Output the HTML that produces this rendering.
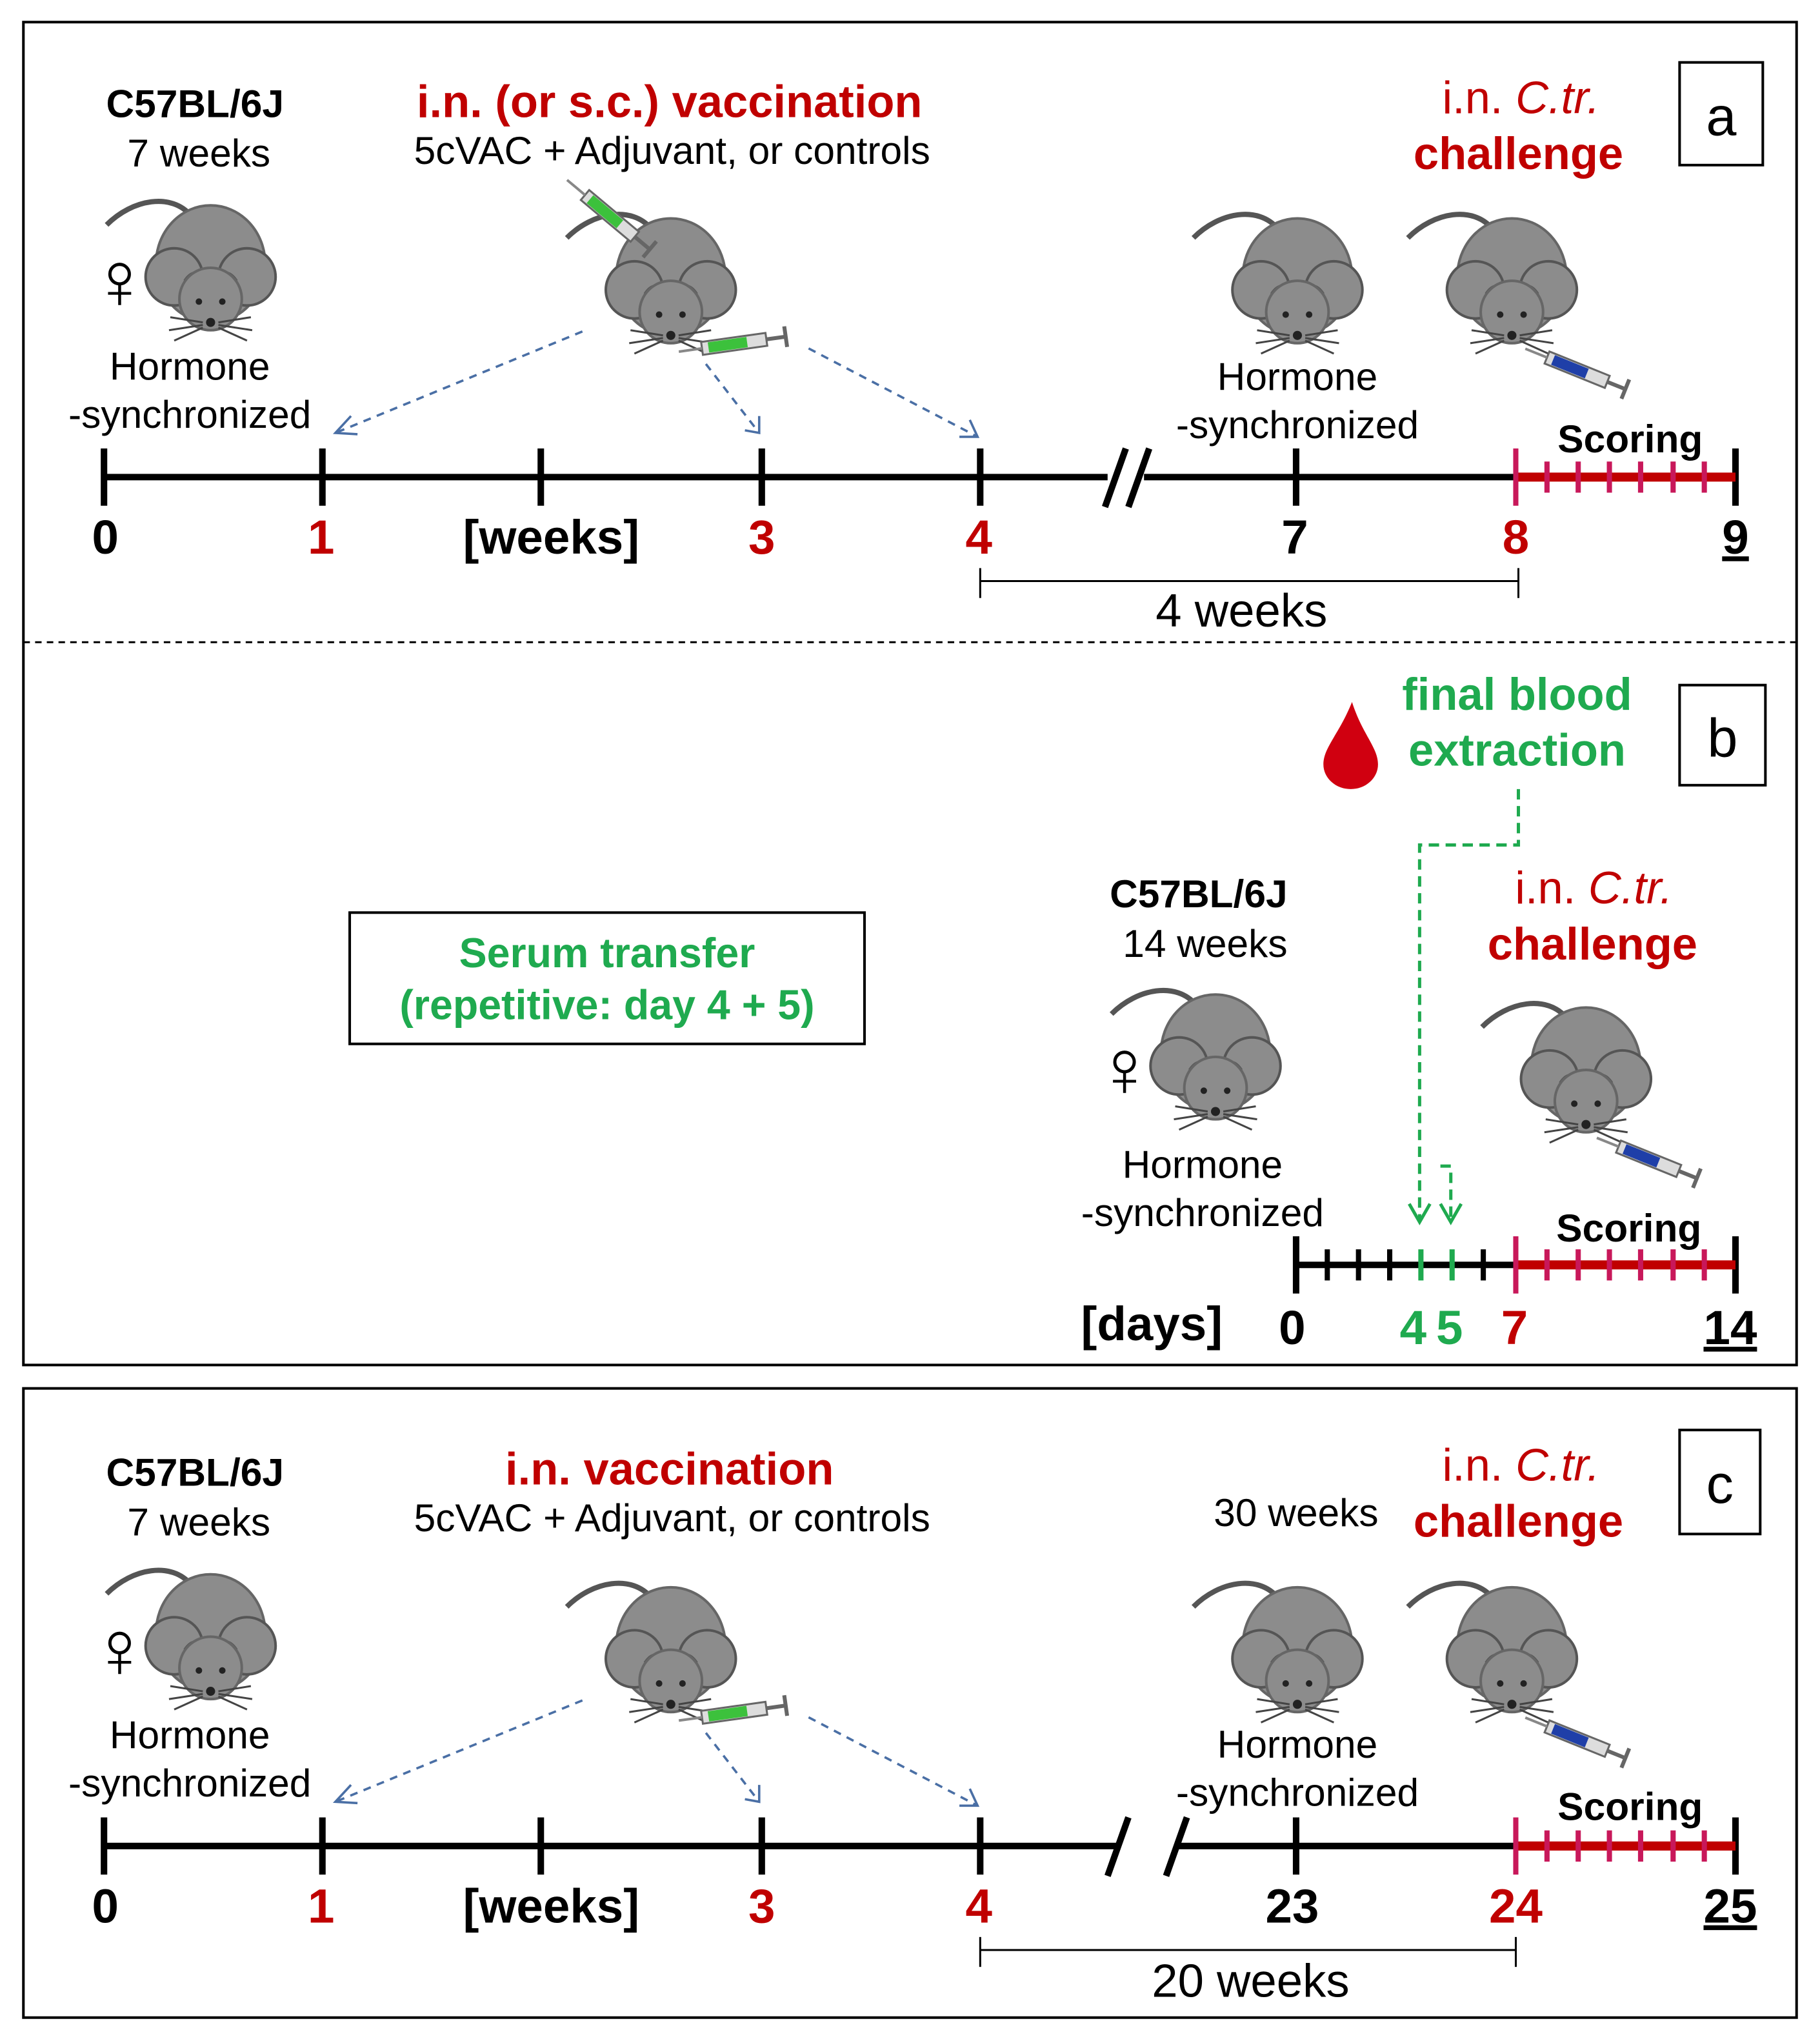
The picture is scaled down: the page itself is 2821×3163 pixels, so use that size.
<!DOCTYPE html>
<html><head><meta charset="utf-8"><style>html,body{margin:0;padding:0;background:#fff}svg{display:block}</style></head>
<body>
<svg width="2821" height="3163" viewBox="0 0 1400 1570" preserveAspectRatio="none" xmlns="http://www.w3.org/2000/svg" font-family="Liberation Sans, Arial, sans-serif">
<defs>
<g id="mouse">
<path d="M-15,-42 C-30,-60 -60,-55 -80,-35" stroke="#555" stroke-width="4" fill="none"/>
<ellipse cx="0" cy="-5" rx="42" ry="45" fill="#8c8c8c" stroke="#666" stroke-width="2"/>
<circle cx="-28" cy="5" r="22" fill="#8c8c8c" stroke="#555" stroke-width="2"/>
<circle cx="28" cy="5" r="22" fill="#8c8c8c" stroke="#555" stroke-width="2"/>
<path d="M-20,8 q8,-12 16,0 M20,8 q-8,-12 -16,0" stroke="#555" stroke-width="2" fill="none"/>
<ellipse cx="0" cy="22" rx="24" ry="24" fill="#8c8c8c" stroke="#666" stroke-width="2"/>
<circle cx="-9" cy="24" r="2.5" fill="#222"/><circle cx="9" cy="24" r="2.5" fill="#222"/>
<circle cx="0" cy="40" r="3.5" fill="#222"/>
<path d="M-6,40 l-25,-4 M-6,42 l-26,4 M-6,44 l-22,10 M6,40 l25,-4 M6,42 l26,4 M6,44 l22,10" stroke="#444" stroke-width="1.5"/>
</g>
<g id="syrG">
<rect x="0" y="-5" width="50" height="10" fill="#ddd" stroke="#666" stroke-width="1.5"/>
<rect x="5" y="-4" width="30" height="8" fill="#3cc13c"/>
<line x1="50" y1="0" x2="65" y2="0" stroke="#666" stroke-width="3"/>
<line x1="65" y1="-8" x2="65" y2="8" stroke="#666" stroke-width="3"/>
<line x1="0" y1="0" x2="-18" y2="0" stroke="#888" stroke-width="2"/>
</g>
<g id="syrB">
<rect x="0" y="-5" width="50" height="10" fill="#ddd" stroke="#666" stroke-width="1.5"/>
<rect x="5" y="-4" width="28" height="8" fill="#1f3fa8"/>
<line x1="50" y1="0" x2="65" y2="0" stroke="#666" stroke-width="3"/>
<line x1="65" y1="-8" x2="65" y2="8" stroke="#666" stroke-width="3"/>
<line x1="0" y1="0" x2="-18" y2="0" stroke="#888" stroke-width="2"/>
</g>
</defs>

<rect x="18" y="17" width="1364" height="1033" fill="none" stroke="#000" stroke-width="2"/>
<line x1="18" y1="494" x2="1382" y2="494" stroke="#000" stroke-width="1.5" stroke-dasharray="5,4"/>
<rect x="18" y="1068" width="1364" height="484" fill="none" stroke="#000" stroke-width="2"/>
<rect x="1292" y="48" width="64" height="79" fill="none" stroke="#000" stroke-width="2"/>
<text x="1324" y="104" font-size="42" text-anchor="middle">a</text>
<rect x="1292" y="527" width="66" height="77" fill="none" stroke="#000" stroke-width="2"/>
<text x="1325" y="582" font-size="42" text-anchor="middle">b</text>
<rect x="1292" y="1100" width="62" height="80" fill="none" stroke="#000" stroke-width="2"/>
<text x="1323" y="1156" font-size="42" text-anchor="middle">c</text>

<!-- PANEL A -->
<g font-size="30" text-anchor="middle">
<text x="150" y="90" font-weight="bold">C57BL/6J</text>
<text x="153" y="128">7 weeks</text>
<text x="515" y="90" font-weight="bold" fill="#c00000" font-size="35">i.n. (or s.c.) vaccination</text>
<text x="517" y="126">5cVAC + Adjuvant, or controls</text>
<text x="1170" y="87" fill="#c00000" font-size="35">i.n. <tspan font-style="italic">C.tr.</tspan></text>
<text x="1168" y="130" fill="#c00000" font-size="35" font-weight="bold">challenge</text>
<text x="146" y="292">Hormone</text>
<text x="146" y="329">-synchronized</text>
<text x="998" y="300">Hormone</text>
<text x="998" y="337">-synchronized</text>
<text x="1254" y="348" font-weight="bold">Scoring</text>
</g>
<text x="92" y="237" font-size="62" font-weight="bold" text-anchor="middle">♀</text>
<use href="#mouse" x="162" y="208"/>
<use href="#mouse" x="516" y="218"/>
<use href="#mouse" x="998" y="218"/>
<use href="#mouse" x="1163" y="218"/>
<use href="#syrG" transform="translate(450,150) rotate(40)"/>
<use href="#syrG" transform="translate(540,268) rotate(-8)"/>
<use href="#syrB" transform="translate(1190,275) rotate(22)"/>
<g stroke="#4a6fa5" stroke-width="1.8" stroke-dasharray="6,5" fill="none">
<path d="M448,255 L258,333"/><path d="M543,280 L584,333"/><path d="M622,268 L752,336"/>
</g>
<g stroke="#4a6fa5" stroke-width="1.8" fill="none">
<path d="M270,320 L258,333 L275,334"/><path d="M573,331 L584,333 L584,320"/><path d="M738,336 L752,336 L746,323"/>
</g>
<g stroke="#000" stroke-width="5">
<line x1="80" y1="367" x2="852" y2="367"/><line x1="880" y1="367" x2="1166" y2="367"/>
<line x1="80" y1="345" x2="80" y2="389"/><line x1="248" y1="345" x2="248" y2="389"/>
<line x1="416" y1="345" x2="416" y2="389"/><line x1="586" y1="345" x2="586" y2="389"/>
<line x1="754" y1="345" x2="754" y2="389"/><line x1="997" y1="345" x2="997" y2="389"/>
<line x1="1335" y1="345" x2="1335" y2="389"/>
<line x1="850" y1="390" x2="866" y2="345"/><line x1="868" y1="390" x2="884" y2="345"/>
</g>
<line x1="1166" y1="367" x2="1335" y2="367" stroke="#c00000" stroke-width="7"/>
<g stroke="#c8185a" stroke-width="4"><line x1="1166" y1="345" x2="1166" y2="389"/>
<line x1="1190" y1="355" x2="1190" y2="379"/><line x1="1214" y1="355" x2="1214" y2="379"/><line x1="1238" y1="355" x2="1238" y2="379"/><line x1="1262" y1="355" x2="1262" y2="379"/><line x1="1287" y1="355" x2="1287" y2="379"/><line x1="1311" y1="355" x2="1311" y2="379"/></g>
<g font-size="37" font-weight="bold" text-anchor="middle">
<text x="81" y="426">0</text><text x="247" y="426" fill="#c00000">1</text>
<text x="424" y="426">[weeks]</text><text x="586" y="426" fill="#c00000">3</text>
<text x="753" y="426" fill="#c00000">4</text><text x="996" y="426">7</text>
<text x="1166" y="426" fill="#c00000">8</text><text x="1335" y="426" text-decoration="underline">9</text>
</g>
<g stroke="#000" stroke-width="1.5"><line x1="754" y1="447" x2="1168" y2="447"/><line x1="754" y1="437" x2="754" y2="460"/><line x1="1168" y1="437" x2="1168" y2="460"/></g>
<text x="955" y="482" font-size="36" text-anchor="middle">4 weeks</text>

<!-- PANEL B -->
<g font-size="35" font-weight="bold" fill="#1faa4f" text-anchor="middle">
<text x="1167" y="546">final blood</text><text x="1167" y="589">extraction</text>
<text x="467" y="744" font-size="32">Serum transfer</text>
<text x="467" y="784" font-size="32">(repetitive: day 4 + 5)</text>
</g>
<path d="M1040,540 C1030,565 1018,575 1018,588 A21,19 0 0 0 1060,588 C1060,575 1048,565 1040,540 Z" fill="#d00010"/>
<rect x="269" y="702" width="396" height="101" fill="none" stroke="#000" stroke-width="2"/>
<g font-size="30" text-anchor="middle">
<text x="922" y="698" font-weight="bold">C57BL/6J</text>
<text x="927" y="736">14 weeks</text>
<text x="1226" y="695" fill="#c00000" font-size="35">i.n. <tspan font-style="italic">C.tr.</tspan></text>
<text x="1225" y="738" fill="#c00000" font-size="35" font-weight="bold">challenge</text>
<text x="925" y="906">Hormone</text>
<text x="925" y="943">-synchronized</text>
<text x="1253" y="955" font-weight="bold">Scoring</text>
</g>
<text x="865" y="843" font-size="62" font-weight="bold" text-anchor="middle">♀</text>
<use href="#mouse" x="935" y="815"/>
<use href="#mouse" x="1220" y="825"/>
<use href="#syrB" transform="translate(1245,882) rotate(22)"/>
<g stroke="#1faa4f" stroke-width="2.5" stroke-dasharray="8,5" fill="none">
<path d="M1168,607 L1168,650 L1092,650 L1092,938"/><path d="M1108,897 L1116,897 L1116,938"/>
</g>
<g stroke="#1faa4f" stroke-width="2.5" fill="none"><path d="M1084,926 L1092,940 L1100,926"/><path d="M1108,926 L1116,940 L1124,926"/></g>
<g stroke="#000" stroke-width="5"><line x1="997" y1="973" x2="1166" y2="973"/>
<line x1="997" y1="951" x2="997" y2="995"/><line x1="1335" y1="951" x2="1335" y2="995"/></g>
<g stroke="#000" stroke-width="4"><line x1="1021" y1="961" x2="1021" y2="985"/><line x1="1045" y1="961" x2="1045" y2="985"/><line x1="1069" y1="961" x2="1069" y2="985"/><line x1="1141" y1="961" x2="1141" y2="985"/></g>
<g stroke="#1faa4f" stroke-width="4"><line x1="1093" y1="961" x2="1093" y2="985"/><line x1="1117" y1="961" x2="1117" y2="985"/></g>
<line x1="1166" y1="973" x2="1335" y2="973" stroke="#c00000" stroke-width="7"/>
<g stroke="#c8185a" stroke-width="4"><line x1="1166" y1="951" x2="1166" y2="995"/>
<line x1="1190" y1="961" x2="1190" y2="985"/><line x1="1214" y1="961" x2="1214" y2="985"/><line x1="1238" y1="961" x2="1238" y2="985"/><line x1="1262" y1="961" x2="1262" y2="985"/><line x1="1287" y1="961" x2="1287" y2="985"/><line x1="1311" y1="961" x2="1311" y2="985"/></g>
<g font-size="37" font-weight="bold" text-anchor="middle">
<text x="886" y="1031">[days]</text><text x="994" y="1034">0</text>
<text x="1087" y="1034" fill="#1faa4f">4</text><text x="1115" y="1034" fill="#1faa4f">5</text>
<text x="1165" y="1034" fill="#c00000">7</text><text x="1331" y="1034" text-decoration="underline">14</text>
</g>

<!-- PANEL C -->
<g font-size="30" text-anchor="middle">
<text x="150" y="1143" font-weight="bold">C57BL/6J</text>
<text x="153" y="1181">7 weeks</text>
<text x="515" y="1142" font-weight="bold" fill="#c00000" font-size="35">i.n. vaccination</text>
<text x="517" y="1178">5cVAC + Adjuvant, or controls</text>
<text x="997" y="1174">30 weeks</text>
<text x="1170" y="1139" fill="#c00000" font-size="35">i.n. <tspan font-style="italic">C.tr.</tspan></text>
<text x="1168" y="1182" fill="#c00000" font-size="35" font-weight="bold">challenge</text>
<text x="146" y="1345">Hormone</text>
<text x="146" y="1382">-synchronized</text>
<text x="998" y="1352">Hormone</text>
<text x="998" y="1389">-synchronized</text>
<text x="1254" y="1400" font-weight="bold">Scoring</text>
</g>
<text x="92" y="1290" font-size="62" font-weight="bold" text-anchor="middle">♀</text>
<use href="#mouse" x="162" y="1261"/>
<use href="#mouse" x="516" y="1271"/>
<use href="#mouse" x="998" y="1271"/>
<use href="#mouse" x="1163" y="1271"/>
<use href="#syrG" transform="translate(540,1321) rotate(-8)"/>
<use href="#syrB" transform="translate(1190,1328) rotate(22)"/>
<g stroke="#4a6fa5" stroke-width="1.8" stroke-dasharray="6,5" fill="none">
<path d="M448,1308 L258,1386"/><path d="M543,1333 L584,1386"/><path d="M622,1321 L752,1389"/>
</g>
<g stroke="#4a6fa5" stroke-width="1.8" fill="none">
<path d="M270,1373 L258,1386 L275,1387"/><path d="M573,1384 L584,1386 L584,1373"/><path d="M738,1389 L752,1389 L746,1376"/>
</g>
<g stroke="#000" stroke-width="5">
<line x1="80" y1="1420" x2="862" y2="1420"/><line x1="905" y1="1420" x2="1166" y2="1420"/>
<line x1="80" y1="1398" x2="80" y2="1442"/><line x1="248" y1="1398" x2="248" y2="1442"/>
<line x1="416" y1="1398" x2="416" y2="1442"/><line x1="586" y1="1398" x2="586" y2="1442"/>
<line x1="754" y1="1398" x2="754" y2="1442"/><line x1="997" y1="1398" x2="997" y2="1442"/>
<line x1="1335" y1="1398" x2="1335" y2="1442"/>
<line x1="852" y1="1443" x2="868" y2="1398"/><line x1="897" y1="1443" x2="913" y2="1398"/>
</g>
<line x1="1166" y1="1420" x2="1335" y2="1420" stroke="#c00000" stroke-width="7"/>
<g stroke="#c8185a" stroke-width="4"><line x1="1166" y1="1398" x2="1166" y2="1442"/>
<line x1="1190" y1="1408" x2="1190" y2="1432"/><line x1="1214" y1="1408" x2="1214" y2="1432"/><line x1="1238" y1="1408" x2="1238" y2="1432"/><line x1="1262" y1="1408" x2="1262" y2="1432"/><line x1="1287" y1="1408" x2="1287" y2="1432"/><line x1="1311" y1="1408" x2="1311" y2="1432"/></g>
<g font-size="37" font-weight="bold" text-anchor="middle">
<text x="81" y="1479">0</text><text x="247" y="1479" fill="#c00000">1</text>
<text x="424" y="1479">[weeks]</text><text x="586" y="1479" fill="#c00000">3</text>
<text x="753" y="1479" fill="#c00000">4</text><text x="994" y="1479">23</text>
<text x="1166" y="1479" fill="#c00000">24</text><text x="1331" y="1479" text-decoration="underline">25</text>
</g>
<g stroke="#000" stroke-width="1.5"><line x1="754" y1="1500" x2="1166" y2="1500"/><line x1="754" y1="1490" x2="754" y2="1513"/><line x1="1166" y1="1490" x2="1166" y2="1513"/></g>
<text x="962" y="1536" font-size="36" text-anchor="middle">20 weeks</text>
</svg>
</body></html>
